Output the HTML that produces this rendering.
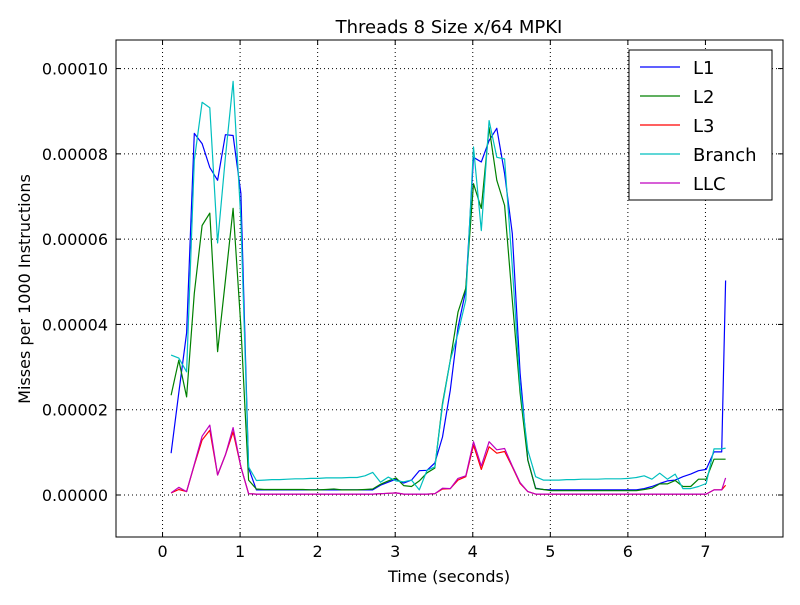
<!DOCTYPE html>
<html><head><meta charset="utf-8"><style>
body{margin:0;background:#fff;}
svg text{font-family:"DejaVu Sans","Liberation Sans",sans-serif;}
</style></head><body>
<svg id="chart" width="800" height="600" xmlns="http://www.w3.org/2000/svg">
<rect width="800" height="600" fill="#fff"/>
<text x="449" y="33" font-size="18" text-anchor="middle">Threads 8 Size x/64 MPKI</text>
<text x="449" y="582" font-size="16" text-anchor="middle">Time (seconds)</text>
<text x="30" y="289" font-size="16" text-anchor="middle" transform="rotate(-90 30 289)">Misses per 1000 Instructions</text>
<g id="grid"></g><g id="series"></g><g id="axes"></g><g id="legend"></g>
</svg>
<script>
const times=[0.11,0.21,0.31,0.41,0.51,0.61,0.71,0.81,0.91,1.01,1.11,1.21,1.31,1.41,1.51,1.61,1.71,1.81,1.91,2.01,2.11,2.21,2.31,2.41,2.51,2.61,2.71,2.81,2.91,3.01,3.11,3.21,3.31,3.41,3.51,3.61,3.71,3.81,3.91,4.01,4.11,4.21,4.31,4.41,4.51,4.61,4.71,4.81,4.91,5.01,5.11,5.21,5.31,5.41,5.51,5.61,5.71,5.81,5.91,6.01,6.11,6.21,6.31,6.41,6.51,6.61,6.71,6.81,6.91,7.01,7.11,7.21,7.26];
const l1=[0.98,2.4,3.8,8.48,8.24,7.68,7.38,8.45,8.43,7.07,0.63,0.12,0.12,0.12,0.12,0.12,0.12,0.12,0.12,0.12,0.12,0.12,0.12,0.12,0.12,0.12,0.12,0.23,0.3,0.37,0.28,0.35,0.57,0.58,0.75,1.36,2.46,3.93,4.8,7.92,7.81,8.31,8.6,7.54,6.13,2.86,0.82,0.16,0.13,0.12,0.12,0.12,0.12,0.12,0.12,0.12,0.12,0.12,0.12,0.12,0.12,0.15,0.2,0.27,0.33,0.35,0.43,0.49,0.57,0.6,1.01,1.01,5.03];
const l2=[2.34,3.16,2.3,4.73,6.32,6.61,3.36,5.03,6.72,3.94,0.35,0.14,0.13,0.13,0.13,0.13,0.13,0.13,0.12,0.12,0.13,0.14,0.12,0.12,0.12,0.13,0.14,0.25,0.33,0.4,0.22,0.2,0.33,0.52,0.63,2.15,3.16,4.29,4.85,7.3,6.72,8.62,7.38,6.79,4.57,2.39,0.82,0.15,0.13,0.1,0.1,0.1,0.1,0.1,0.1,0.1,0.1,0.1,0.1,0.1,0.1,0.13,0.16,0.26,0.26,0.34,0.2,0.2,0.37,0.37,0.84,0.84,0.84];
const l3=[0.05,0.13,0.08,0.7,1.29,1.52,0.47,0.94,1.48,0.66,0.03,0.02,0.02,0.02,0.02,0.02,0.02,0.02,0.02,0.02,0.02,0.02,0.02,0.02,0.02,0.02,0.02,0.03,0.04,0.05,0.02,0.02,0.02,0.02,0.03,0.14,0.15,0.35,0.43,1.17,0.6,1.13,0.98,1.02,0.66,0.27,0.08,0.02,0.02,0.02,0.02,0.02,0.02,0.02,0.02,0.02,0.02,0.02,0.02,0.02,0.02,0.02,0.02,0.02,0.02,0.02,0.02,0.02,0.02,0.02,0.12,0.12,0.23];
const branch=[3.28,3.21,2.89,7.85,9.21,9.08,5.91,7.92,9.7,6.44,0.66,0.34,0.35,0.36,0.36,0.37,0.38,0.38,0.39,0.39,0.4,0.4,0.4,0.41,0.41,0.45,0.53,0.3,0.42,0.33,0.31,0.35,0.12,0.58,0.66,2.1,3.16,3.79,4.57,8.16,6.2,8.78,7.92,7.88,5.35,2.54,1.05,0.43,0.35,0.35,0.35,0.36,0.36,0.37,0.37,0.37,0.38,0.38,0.38,0.39,0.41,0.45,0.37,0.51,0.37,0.49,0.15,0.15,0.2,0.27,1.08,1.08,1.1];
const llc=[0.05,0.18,0.08,0.72,1.38,1.64,0.47,0.94,1.58,0.66,0.03,0.02,0.02,0.02,0.02,0.02,0.02,0.02,0.02,0.02,0.02,0.02,0.02,0.02,0.02,0.02,0.02,0.03,0.04,0.05,0.02,0.02,0.02,0.02,0.03,0.16,0.15,0.39,0.45,1.25,0.68,1.25,1.06,1.09,0.68,0.29,0.08,0.02,0.02,0.02,0.02,0.02,0.02,0.02,0.02,0.02,0.02,0.02,0.02,0.02,0.02,0.02,0.02,0.02,0.02,0.02,0.02,0.02,0.02,0.02,0.12,0.12,0.4];
const seriesNames=["L1","L2","L3","Branch","LLC"];
const xTicks=[0,1,2,3,4,5,6,7];
const yTicks=[0,2,4,6,8,10];
const yTickLabels=["0.00000","0.00002","0.00004","0.00006","0.00008","0.00010"];

const L=116,R=783,T=40,B=537;
const xMin=-0.6,xMax=8,yMin=-0.985,yMax=10.67;
const xs=v=>L+(v-xMin)/(xMax-xMin)*(R-L);
const ys=v=>B-(v-yMin)/(yMax-yMin)*(B-T);
const NS="http://www.w3.org/2000/svg";
function mk(tag,attrs,parent){const e=document.createElementNS(NS,tag);for(const k in attrs)e.setAttribute(k,attrs[k]);parent.appendChild(e);return e;}
const grid=document.getElementById('grid'),axes=document.getElementById('axes'),ser=document.getElementById('series'),leg=document.getElementById('legend');
xTicks.forEach(t=>{const x=xs(t);
 const g=mk('line',{x1:x,x2:x,y1:T,y2:B,stroke:'#000','stroke-width':1,'stroke-dasharray':'1,3'},grid);
 
 
 mk('line',{x1:x,x2:x,y1:B,y2:B-5,stroke:'#000'},axes);
 mk('line',{x1:x,x2:x,y1:T,y2:T+5,stroke:'#000'},axes);
 const tx=mk('text',{x:x,y:B+20,'font-size':16,'text-anchor':'middle'},axes);tx.textContent=t;
 
 
});
yTicks.forEach((t,i)=>{const y=ys(t);
 const g=mk('line',{x1:L,x2:R,y1:y,y2:y,stroke:'#000','stroke-width':1,'stroke-dasharray':'1,3'},grid);
 
 
 mk('line',{x1:L,x2:L+5,y1:y,y2:y,stroke:'#000'},axes);
 mk('line',{x1:R,x2:R-5,y1:y,y2:y,stroke:'#000'},axes);
 const tx=mk('text',{x:L-8,y:y+6,'font-size':16,'text-anchor':'end'},axes);tx.textContent=yTickLabels[i];
 
 
});
const frame=mk('rect',{x:L,y:T,width:R-L,height:B-T,fill:'none',stroke:'#000','stroke-width':1},axes);


const data=[l1,l2,l3,branch,llc];
const colors=['#0000ff','#008000','#ff0000','#00bfbf','#bf00bf'];
const drawOrder=[0,1,2,3,4];
drawOrder.forEach(i=>{
 const pts=times.map((t,j)=>xs(t).toFixed(1)+','+ys(data[i][j]).toFixed(1)).join(' ');
 const p=mk('polyline',{points:pts,fill:'none',stroke:colors[i],'stroke-width':1.2,'stroke-linejoin':'round'},ser);
 
 
});
const lb=mk('rect',{x:629,y:50,width:143,height:150,fill:'#fff',stroke:'#000','stroke-width':1},leg);


seriesNames.forEach((n,i)=>{const y=67+i*29;
 const g=mk('g',{},leg);
 
 
 mk('line',{x1:640,x2:680,y1:y,y2:y,stroke:colors[i],'stroke-width':1.2},g);
 const t=mk('text',{x:693,y:y+7,'font-size':18},g);t.textContent=n;
});
</script>
</body></html>
